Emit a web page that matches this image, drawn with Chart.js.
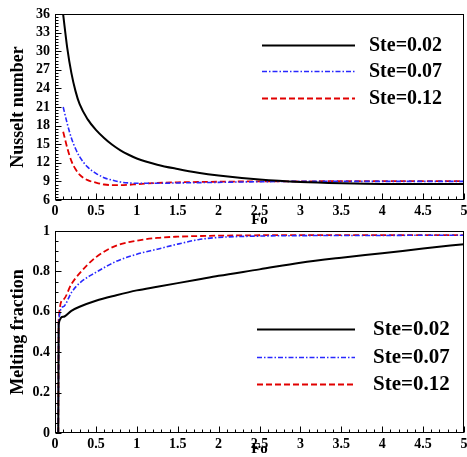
<!DOCTYPE html>
<html>
<head>
<meta charset="utf-8">
<script src="https://cdn.jsdelivr.net/npm/chart.js@4"></script>
<style>
  body { margin: 0; background: #fff; }
  #wrap { position: relative; width: 467px; height: 457px; }
  #top, #bot { position: absolute; left: 0; }
  #top { top: 0; }
  #bot { top: 216px; }
</style>
</head>
<body>
<div id="wrap">
  <canvas id="top" width="467" height="228"></canvas>
  <canvas id="bot" width="467" height="241"></canvas>
</div>
<script>
// 数据
const seriesNames = ['Ste=0.02', 'Ste=0.07', 'Ste=0.12'];

// top: Nusselt number vs Fo
const foNu = [0.1, 0.15, 0.2, 0.25, 0.3, 0.4, 0.5, 0.6, 0.7, 0.8, 0.9, 1.0, 1.25, 1.5, 1.75, 2, 2.5, 3, 3.5, 4, 4.5, 5];
const nu002 = [35.9, 30.5, 26.5, 23.6, 21.5, 19.0, 17.3, 16.0, 14.9, 14.0, 13.3, 12.7, 11.7, 11.0, 10.4, 9.95, 9.3, 8.9, 8.7, 8.6, 8.6, 8.6];
const nu007 = [21, 18.3, 16.0, 14.3, 13.0, 11.3, 10.3, 9.6, 9.2, 8.9, 8.75, 8.7, 8.7, 8.75, 8.8, 8.85, 8.95, 9.0, 9.0, 9.0, 9.0, 9.0];
const nu012 = [17, 14.4, 12.3, 11.0, 10.1, 9.2, 8.8, 8.5, 8.4, 8.4, 8.45, 8.55, 8.75, 8.85, 8.9, 8.95, 9.0, 9.0, 9.05, 9.05, 9.05, 9.05];

// bottom: melting fraction vs Fo
const foMf = [0.04, 0.045, 0.1, 0.2, 0.3, 0.5, 0.75, 1, 1.25, 1.5, 1.75, 2, 2.5, 3, 3.5, 4, 4.5, 5];
const mf002 = [0, 0.54, 0.575, 0.605, 0.625, 0.655, 0.682, 0.706, 0.724, 0.742, 0.76, 0.778, 0.81, 0.843, 0.868, 0.89, 0.913, 0.935];
const mf007 = [0, 0.55, 0.625, 0.695, 0.742, 0.795, 0.85, 0.885, 0.91, 0.935, 0.957, 0.968, 0.975, 0.977, 0.978, 0.978, 0.979, 0.979];
const mf012 = [0, 0.56, 0.66, 0.737, 0.79, 0.87, 0.928, 0.952, 0.966, 0.972, 0.975, 0.977, 0.979, 0.98, 0.98, 0.98, 0.98, 0.98];

// x / y tick labels
const foTicks = [0, 0.5, 1, 1.5, 2, 2.5, 3, 3.5, 4, 4.5, 5];
const nuTicks = [6, 9, 12, 15, 18, 21, 24, 27, 30, 33, 36];
const mfTicks = [0, 0.2, 0.4, 0.6, 0.8, 1];

const serif = '"Liberation Serif", "Times New Roman", serif';
Chart.defaults.font.family = serif;
Chart.defaults.color = '#000';

const styles = [
    { borderColor: '#000', borderWidth: 2, borderDash: [] },
    { borderColor: 'rgb(40,40,255)', borderWidth: 1.6, borderDash: [5, 2, 1.5, 2] },
    { borderColor: 'rgb(225,0,0)', borderWidth: 1.8, borderDash: [6, 3] }
];

function makeSets(xs, ys) {
    return ys.map((arr, i) => ({
        label: seriesNames[i],
        data: arr.map((v, j) => ({ x: xs[j], y: v })),
        borderColor: styles[i].borderColor,
        borderWidth: styles[i].borderWidth,
        borderDash: styles[i].borderDash,
        pointRadius: 0,
        fill: false,
        cubicInterpolationMode: 'monotone'
    }));
}

// frame + inward ticks (major and minor)
const frameTicks = {
    id: 'frameTicks',
    afterDatasetsDraw(chart, args, o) {
        const { ctx, chartArea: a, scales: { x, y } } = chart;
        ctx.save();
        ctx.strokeStyle = '#000';
        ctx.lineWidth = 1;
        const L = Math.round(a.left) + 0.5, R = Math.round(a.right) - 0.5;
        const T = Math.round(a.top) + 0.5, B = Math.round(a.bottom) - 0.5;
        ctx.strokeRect(L, T, R - L, B - T);
        ctx.beginPath();
        const nx = Math.round((x.max - x.min) / o.xMinor);
        for (let i = 0; i <= nx; i++) {
            const v = x.min + i * o.xMinor;
            const major = Math.abs(v / o.xMajor - Math.round(v / o.xMajor)) < 1e-6;
            const px = Math.round(x.getPixelForValue(v)) + 0.5;
            ctx.moveTo(px, B);
            ctx.lineTo(px, B - (major ? 6 : 3));
        }
        const ny = Math.round((y.max - y.min) / o.yMinor);
        for (let i = 0; i <= ny; i++) {
            const v = y.min + i * o.yMinor;
            const major = Math.abs((v - y.min) / o.yMajor - Math.round((v - y.min) / o.yMajor)) < 1e-6;
            const py = Math.round(y.getPixelForValue(v)) + 0.5;
            ctx.moveTo(L, py);
            ctx.lineTo(L + (major ? 6 : 3), py);
        }
        ctx.stroke();
        ctx.restore();
    }
};

// legend drawn inside the plot
const lineLegend = {
    id: 'lineLegend',
    afterDraw(chart, args, o) {
        const ctx = chart.ctx;
        ctx.save();
        chart.data.datasets.forEach((ds, i) => {
            const yy = o.ys[i] + 0.5;
            ctx.strokeStyle = ds.borderColor;
            ctx.lineWidth = ds.borderWidth;
            ctx.setLineDash(ds.borderDash);
            ctx.beginPath();
            ctx.moveTo(o.x1, yy);
            ctx.lineTo(o.x2, yy);
            ctx.stroke();
            ctx.setLineDash([]);
            ctx.fillStyle = '#000';
            ctx.font = 'bold ' + o.size + 'px ' + serif;
            ctx.textBaseline = 'middle';
            ctx.fillText(ds.label, o.tx, o.ys[i] + 1);
        });
        ctx.restore();
    }
};

function makeConfig(xs, ys, yTicks, yTitle, axisH, padTop, legendOpts, yMinor) {
    const yStep = yTicks[1] - yTicks[0];
    return {
        type: 'line',
        data: { datasets: makeSets(xs, ys) },
        plugins: [frameTicks, lineLegend],
        options: {
            responsive: false,
            animation: false,
            layout: { padding: { top: padTop, right: 3, left: 0, bottom: 0 } },
            plugins: {
                legend: { display: false },
                tooltip: { enabled: false },
                frameTicks: { xMinor: 0.1, xMajor: 0.5, yMinor: yMinor, yMajor: yStep },
                lineLegend: legendOpts
            },
            scales: {
                x: {
                    type: 'linear',
                    min: foTicks[0],
                    max: foTicks[foTicks.length - 1],
                    afterBuildTicks: s => { s.ticks = foTicks.map(v => ({ value: v })); },
                    ticks: {
                        font: { size: 14, weight: 'bold' },
                        padding: 3,
                        maxRotation: 0,
                        autoSkip: false,
                        callback: v => String(v)
                    },
                    grid: { display: false, drawTicks: false },
                    border: { display: false },
                    title: {
                        display: true,
                        text: 'Fo',
                        font: { size: 15, weight: 'bold', lineHeight: 1 },
                        padding: { top: 0, bottom: 0 }
                    },
                    afterFit: s => { s.height = axisH; s.paddingLeft = 0; s.paddingRight = 0; }
                },
                y: {
                    min: yTicks[0],
                    max: yTicks[yTicks.length - 1],
                    afterBuildTicks: s => { s.ticks = yTicks.map(v => ({ value: v })); },
                    ticks: {
                        font: { size: 14, weight: 'bold' },
                        padding: 5,
                        autoSkip: false,
                        callback: v => String(v)
                    },
                    grid: { display: false, drawTicks: false },
                    border: { display: false },
                    title: {
                        display: true,
                        text: yTitle,
                        font: { size: 18, weight: 'bold', lineHeight: 1 },
                        padding: { top: 9, bottom: 0 }
                    },
                    afterFit: s => { s.width = 55; s.paddingTop = 0; s.paddingBottom = 0; }
                }
            }
        }
    };
}

const topChart = new Chart(document.getElementById('top').getContext('2d'),
    makeConfig(foNu, [nu002, nu007, nu012], nuTicks, 'Nusselt number', 28, 14,
        { x1: 262, x2: 355, tx: 369, ys: [45, 71, 98], size: 20 }, 0.5));

const botChart = new Chart(document.getElementById('bot').getContext('2d'),
    makeConfig(foMf, [mf002, mf007, mf012], mfTicks, 'Melting fraction', 24, 15,
        { x1: 257, x2: 355, tx: 373, ys: [113, 141, 168], size: 21 }, 0.05));
</script>
</body>
</html>
